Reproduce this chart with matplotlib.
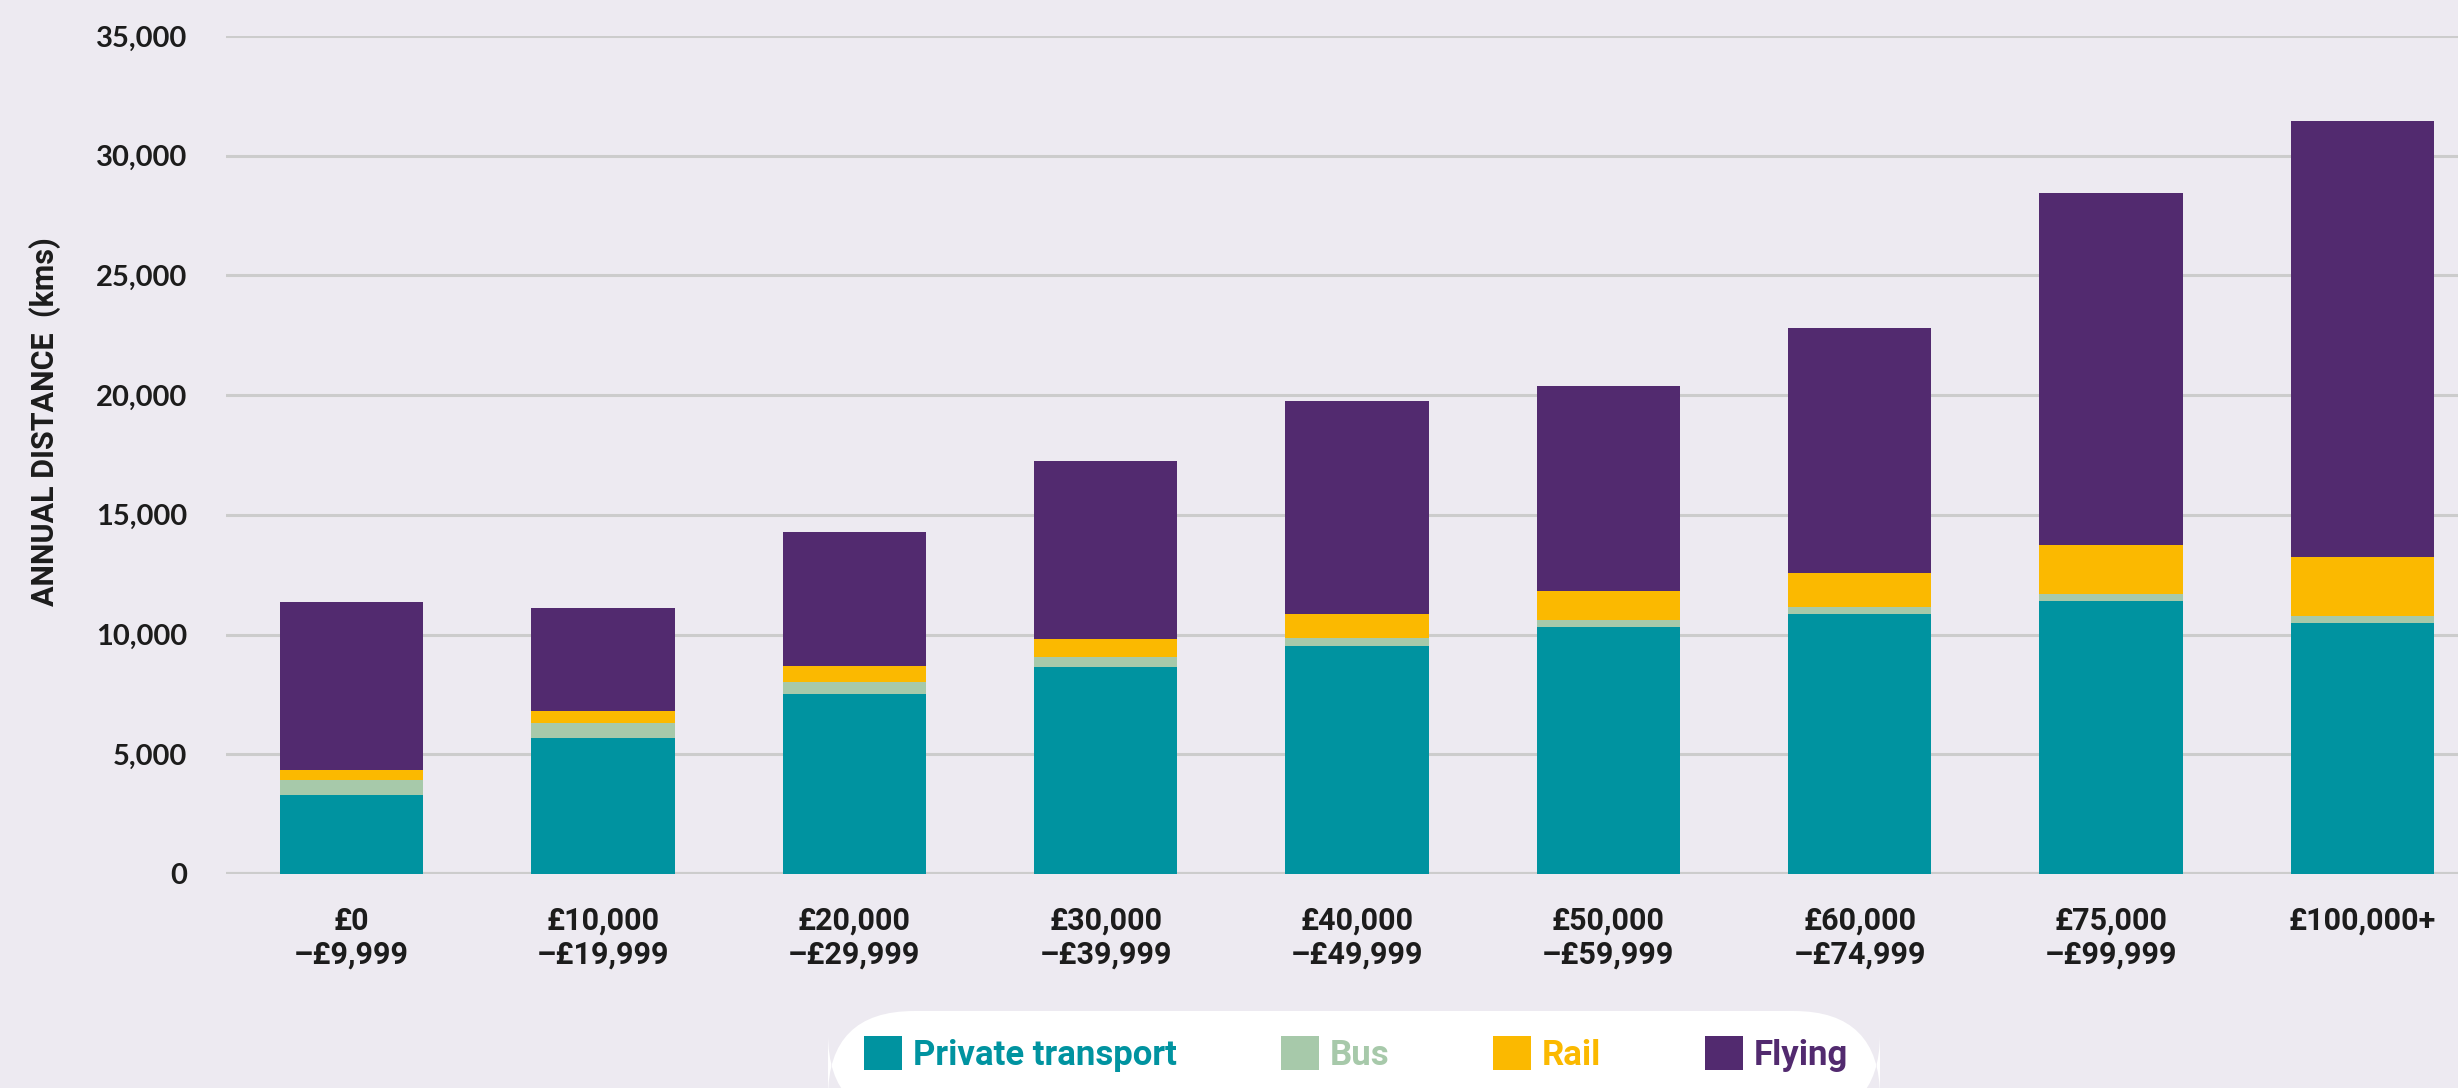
import matplotlib
matplotlib.use("Agg")
import matplotlib.pyplot as plt
from matplotlib.patches import FancyBboxPatch, Patch
import numpy as np

# income bands and annual distance by mode (kms)
bands = ["£0\n–£9,999", "£10,000\n–£19,999", "£20,000\n–£29,999", "£30,000\n–£39,999",
         "£40,000\n–£49,999", "£50,000\n–£59,999", "£60,000\n–£74,999", "£75,000\n–£99,999",
         "£100,000+\n"]
private_transport = [3300, 5700, 7530, 8650, 9530, 10320, 10860, 11400, 10490]
bus = [620, 620, 500, 400, 330, 290, 280, 290, 290]
rail = [420, 500, 670, 760, 1000, 1210, 1430, 2040, 2460]
flying = [7000, 4290, 5580, 7420, 8900, 8570, 10240, 14730, 18190]

series = [("Private transport", private_transport, "#0093A0"),
          ("Bus", bus, "#A7C9AA"),
          ("Rail", rail, "#FBB900"),
          ("Flying", flying, "#522A6F")]

bg = "#EDEAF1"
ink = "#1c1c1c"
narrow = ["Roboto", "DejaVu Sans"]

fig = plt.figure(figsize=(24.58, 10.88), dpi=100, facecolor=bg)
ax = fig.add_axes([226 / 2458, 1 - 874 / 1088, 1 - 226 / 2458, (874 - 36) / 1088])
ax.set_facecolor(bg)

x = np.arange(len(bands))
bottom = np.zeros(len(bands))
for name, vals, col in series:
    ax.bar(x, vals, width=0.57, bottom=bottom, color=col, label=name, zorder=3)
    bottom += np.array(vals)

ax.set_ylim(0, 35000)
ax.set_xlim(-0.5, 8.38)
ax.set_yticks(np.arange(0, 35001, 5000))
ax.set_yticklabels([f"{v:,}" for v in range(0, 35001, 5000)],
                   fontsize=21, fontweight="bold", family="Lato", color=ink)
ax.set_xticks(x)
ax.set_xticklabels(bands, fontsize=22, fontweight="bold", family=narrow, color=ink,
                   linespacing=1.15, va="top")
ax.tick_params(axis="both", length=0)
ax.tick_params(axis="y", pad=28)
ax.tick_params(axis="x", pad=23)
ax.yaxis.grid(True, color="#CCCCCC", linewidth=2.2, zorder=0)
ax.set_axisbelow(True)
for s in ax.spines.values():
    s.set_visible(False)
ax.axhline(0, color="#CCCCCC", linewidth=3, zorder=2)

ax.set_ylabel("ANNUAL DISTANCE  (kms)", fontsize=22, fontweight="bold", family=narrow, color=ink)
ax.yaxis.set_label_coords(-0.074, 0.54)

# rounded white legend box at the bottom
box = FancyBboxPatch((828 / 2458, 1 - 1120 / 1088), (1880 - 828) / 2458, (1120 - 1011) / 1088,
                     boxstyle="round,pad=0,rounding_size=0.035", transform=fig.transFigure,
                     facecolor="white", edgecolor="none", mutation_aspect=2458 / 1088)
fig.patches.append(box)

handles = [Patch(facecolor=col, edgecolor="none") for _, _, col in series]
leg = fig.legend(handles, [n for n, _, _ in series], loc="center",
                 bbox_to_anchor=(1356 / 2458, 1 - 1054 / 1088), ncol=4, frameon=False,
                 prop={"family": narrow, "weight": "bold", "size": 25},
                 handlelength=1.1, handleheight=1.1, handletextpad=0.3, columnspacing=3.0)
for txt, (_, _, col) in zip(leg.get_texts(), series):
    txt.set_color(col)

fig.savefig("out.png", dpi=100, facecolor=bg)
